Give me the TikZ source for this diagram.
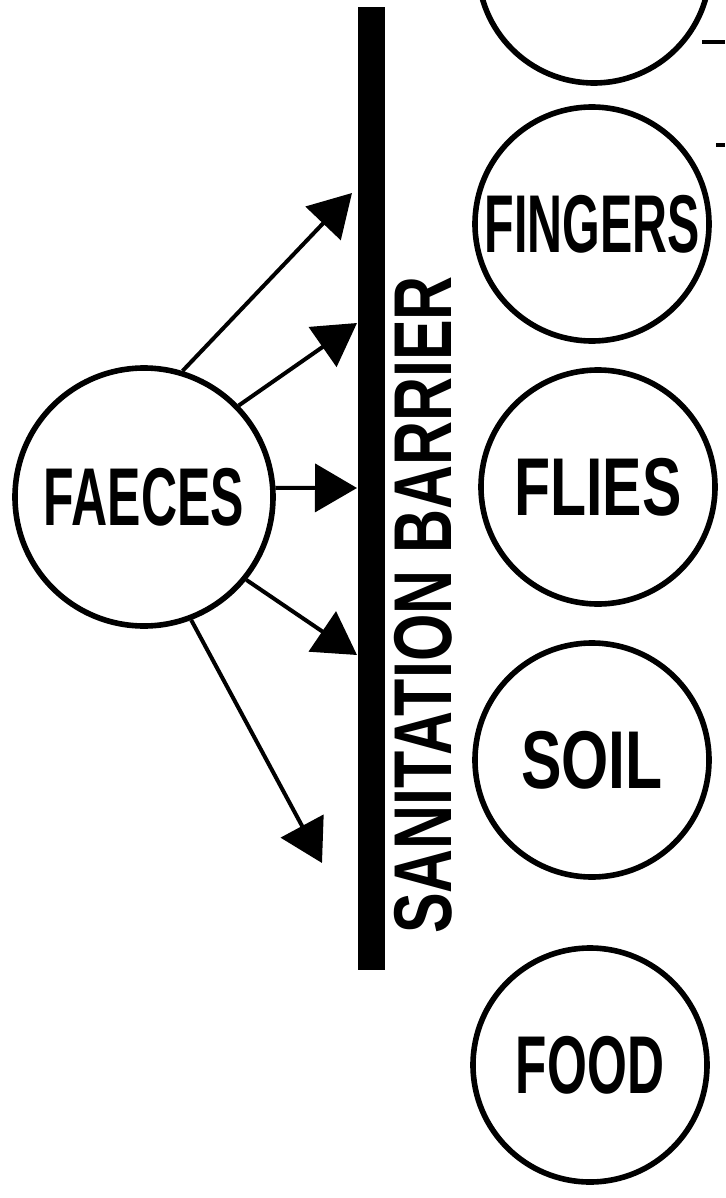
\documentclass[tikz,border=0pt]{standalone}
\usepackage{fontspec}
\setmainfont{Liberation Sans}
\usetikzlibrary{arrows.meta}

\newcommand{\squeeze}[2]{\scalebox{#1}[1]{#2}}

\begin{document}
\begin{tikzpicture}[x=0.5pt, y=-0.5pt]

        \useasboundingbox (0,0) rectangle (725,1198);
        \clip (0,0) rectangle (725,1198);

        % the barrier and its label
        \node[fill, inner sep=0pt, minimum width=13.5pt, minimum height=481.5pt] (b) at (371.5,488.5) {};
        \node[rotate=90, inner sep=0pt, font=\fontsize{41}{41}\selectfont\bfseries] (t1) at (423,605) {\squeeze{0.743}{SANITATION BARRIER}};

        \begin{scope}[every node/.style={circle, draw, line width=2.8pt, inner sep=0pt, font=\fontsize{41}{41}\selectfont\bfseries}]
          \node[minimum size=129pt] (1) at (144,497)  {\squeeze{0.61}{FAECES}};
          \node[minimum size=116pt] (2) at (594,-33)  {};
          \node[minimum size=117pt] (3) at (592,224)  {\squeeze{0.59}{FINGERS}};
          \node[minimum size=117pt] (4) at (598,487)  {\squeeze{0.72}{FLIES}};
          \node[minimum size=117pt] (5) at (592,760)  {\squeeze{0.74}{SOIL}};
          \node[minimum size=117pt] (6) at (590,1065) {\squeeze{0.625}{FOOD}};
        \end{scope}

        \coordinate (a1) at (352,193);
        \coordinate (a2) at (357,323);
        \coordinate (a3) at (357,488);
        \coordinate (a4) at (357,655);
        \coordinate (a5) at (322,863);

        \begin{scope}[every edge/.style={draw, line width=2pt, -{Triangle[length=21pt, width=24pt]}}]
          \path (1.73)  edge (a1);
          \path (1.44)  edge (a2);
          \path (1.4)   edge (a3);
          \path (1.-39) edge (a4);
          \path (1.-69) edge (a5);
        \end{scope}

        % cut-off strokes on the right
        \draw[line width=2pt] (702,42) -- (725,42);
        \draw[line width=2pt] (716,145) -- (725,145);

      \end{tikzpicture}
\end{document}
